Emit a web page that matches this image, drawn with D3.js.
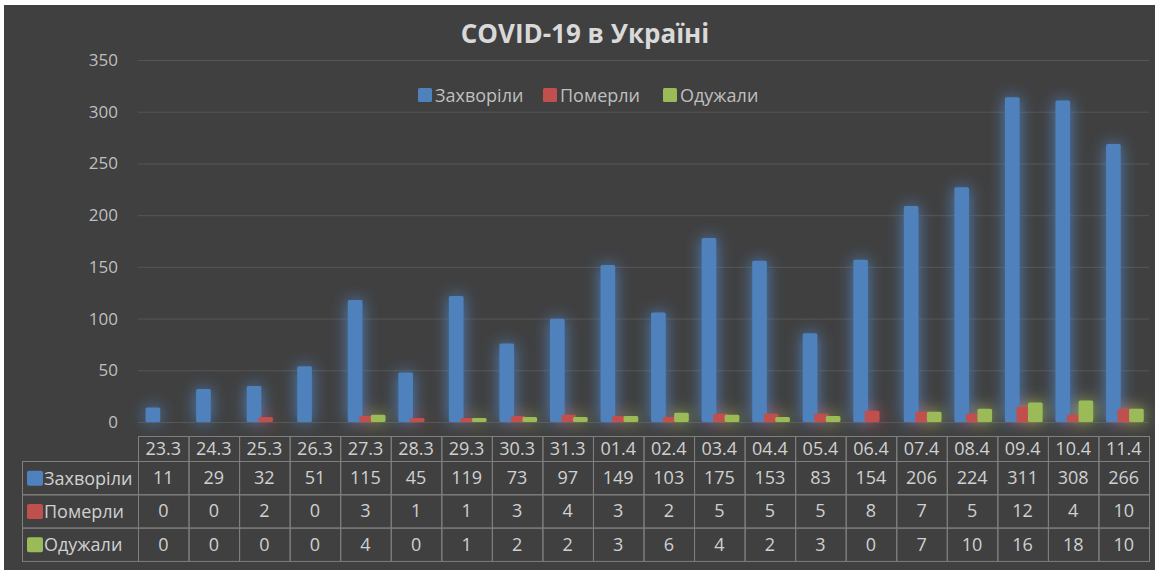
<!DOCTYPE html>
<html>
<head>
<meta charset="utf-8">
<script src="https://cdn.jsdelivr.net/npm/d3@7"></script>
<style>
  body { margin: 0; background: #ffffff; }
  svg text { font-family: "Open Sans", "Noto Sans", sans-serif; }
</style>
</head>
<body>
<div id="chart"></div>
<script>
// data
const dates = ["23.3","24.3","25.3","26.3","27.3","28.3","29.3","30.3","31.3","01.4",
               "02.4","03.4","04.4","05.4","06.4","07.4","08.4","09.4","10.4","11.4"]
const sick  = [11,29,32,51,115,45,119,73,97,149,103,175,153,83,154,206,224,311,308,266]
const dead  = [0,0,2,0,3,1,1,3,4,3,2,5,5,5,8,7,5,12,4,10]
const cured = [0,0,0,0,4,0,1,2,2,3,6,4,2,3,0,7,10,16,18,10]
const series_names = ["Захворіли","Померли","Одужали"]
const series_colors = ["#4f81bd","#c0504d","#9bbb59"]
const y_ticks = [0,50,100,150,200,250,300,350]

const series = [sick, dead, cured]

const W = 1155, H = 570
const plot = {left: 138, right: 1149, top: 60, bottom: 422}

const svg = d3.select("#chart").append("svg")
    .attr("width", W).attr("height", H)

svg.append("rect")
    .attr("x", 4).attr("y", 5)
    .attr("width", W - 4).attr("height", H - 5)
    .attr("fill", "#404040")

// glow around the bars
const defs = svg.append("defs")
const glow = defs.append("filter").attr("id", "glow")
    .attr("x", "-150%").attr("y", "-50%").attr("width", "400%").attr("height", "200%")
glow.append("feGaussianBlur").attr("in", "SourceGraphic").attr("stdDeviation", 8).attr("result", "blur")
glow.append("feComponentTransfer").attr("in", "blur").attr("result", "soft")
    .append("feFuncA").attr("type", "linear").attr("slope", 1.0)
const merge = glow.append("feMerge")
merge.append("feMergeNode").attr("in", "soft")
merge.append("feMergeNode").attr("in", "SourceGraphic")

const x = d3.scaleBand().domain(dates).range([plot.left, plot.right]).padding(0)
const y = d3.scaleLinear().domain([0, 350]).range([plot.bottom, plot.top])
const bw = x.bandwidth()

// grid + y labels
svg.append("g")
    .selectAll("line")
    .data(y_ticks)
    .join("line")
    .attr("x1", plot.left).attr("x2", plot.right)
    .attr("y1", d => y(d) + 0.5).attr("y2", d => y(d) + 0.5)
    .attr("stroke", "#555555").attr("stroke-width", 1)

svg.append("g")
    .attr("transform", "translate(" + (plot.left - 20) + ",0)")
    .call(d3.axisLeft(y).tickValues(y_ticks).tickSize(0).tickPadding(0))
    .call(g => g.select(".domain").remove())
    .call(g => g.selectAll("text")
        .attr("fill", "#bfbfbf")
        .style("font-size", "17px")
        .style("font-family", "'Open Sans', sans-serif"))

// title
svg.append("text")
    .attr("x", 585).attr("y", 43)
    .attr("text-anchor", "middle")
    .attr("fill", "#d9d9d9")
    .style("font-size", "26px")
    .style("font-weight", "bold")
    .text("COVID-19 в Україні")

// legend
const legend_x = [418, 543, 663]
series_names.forEach(function(name, i) {
    svg.append("rect")
        .attr("x", legend_x[i]).attr("y", 88)
        .attr("width", 14).attr("height", 14).attr("rx", 1.5)
        .attr("fill", series_colors[i])
    svg.append("text")
        .attr("x", legend_x[i] + 17).attr("y", 102)
        .attr("fill", "#bfbfbf")
        .style("font-size", "18px")
        .text(name)
})

// bars
const bar_w = bw * 0.29
const bar_step = bw * 0.228
const bar_off = bw * 0.15
const bars = svg.append("g").attr("filter", "url(#glow)")
series.forEach(function(vals, s) {
    bars.append("g")
        .selectAll("rect")
        .data(vals.map((v, i) => ({date: dates[i], value: v})).filter(d => d.value > 0))
        .join("rect")
        .attr("x", d => x(d.date) + bar_off + s * bar_step)
        .attr("y", d => y(d.value) - 3)
        .attr("width", bar_w)
        .attr("height", d => y(0) - y(d.value) + 3)
        .attr("rx", 1.5)
        .attr("fill", series_colors[s])
})

// data table
const tbl = {top: 436, header_h: 25, row_h: 33.3, label_left: 22}
const line_col = "#7f7f7f"
const table = svg.append("g")

// header row (dates only)
table.append("g")
    .selectAll("rect")
    .data(dates)
    .join("rect")
    .attr("x", d => x(d) + 0.5).attr("y", tbl.top + 0.5)
    .attr("width", bw).attr("height", tbl.header_h)
    .attr("fill", "none").attr("stroke", line_col)
table.append("g")
    .selectAll("text")
    .data(dates)
    .join("text")
    .attr("x", d => x(d) + bw / 2)
    .attr("y", tbl.top + tbl.header_h / 2 + 6.5)
    .attr("text-anchor", "middle")
    .attr("fill", "#d0d0d0")
    .style("font-size", "18px")
    .text(d => d)

series.forEach(function(vals, s) {
    const ry = tbl.top + tbl.header_h + s * tbl.row_h
    table.append("rect")
        .attr("x", tbl.label_left + 0.5).attr("y", ry + 0.5)
        .attr("width", plot.left - tbl.label_left).attr("height", tbl.row_h)
        .attr("fill", "none").attr("stroke", line_col)
    table.append("rect")
        .attr("x", tbl.label_left + 5).attr("y", ry + tbl.row_h / 2 - 7)
        .attr("width", 16).attr("height", 15).attr("rx", 2)
        .attr("fill", series_colors[s])
    table.append("text")
        .attr("x", tbl.label_left + 22).attr("y", ry + tbl.row_h / 2 + 7)
        .attr("fill", "#d0d0d0")
        .style("font-size", "18px")
        .text(series_names[s])

    const g = table.append("g")
    g.selectAll("rect")
        .data(dates)
        .join("rect")
        .attr("x", d => x(d) + 0.5).attr("y", ry + 0.5)
        .attr("width", bw).attr("height", tbl.row_h)
        .attr("fill", "none").attr("stroke", line_col)
    g.selectAll("text")
        .data(vals)
        .join("text")
        .attr("x", (d, i) => x(dates[i]) + bw / 2)
        .attr("y", ry + tbl.row_h / 2 + 6.5)
        .attr("text-anchor", "middle")
        .attr("fill", "#d0d0d0")
        .style("font-size", "18px")
        .text(d => d)
})
</script>
</body>
</html>
